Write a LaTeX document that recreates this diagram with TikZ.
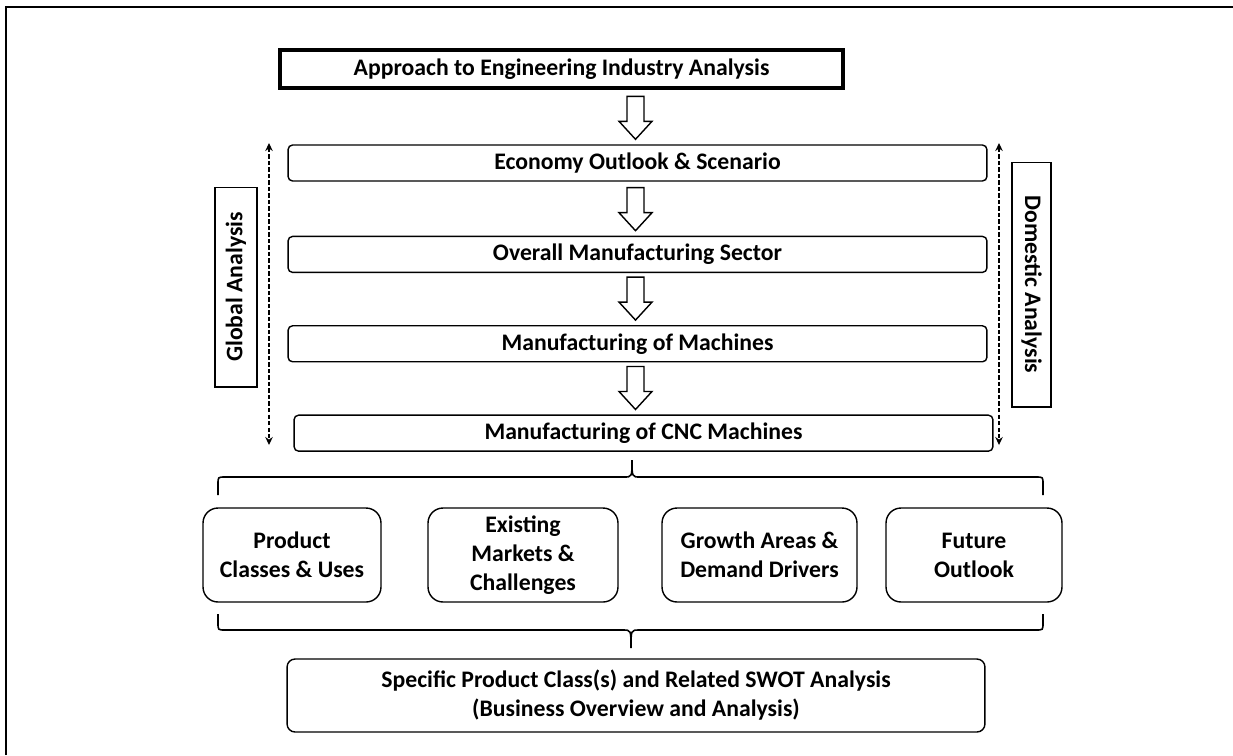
\documentclass[tikz,border=0pt]{standalone}
\usepackage{fontspec}
\setmainfont{Carlito}
\usetikzlibrary{positioning, arrows.meta, calc}

\begin{document}
\begin{tikzpicture}[x=0.02cm, y=-0.02cm,
  font=\bfseries\fontsize{13.5}{16.5}\selectfont,
  headbox/.style={draw, line width=1.8pt, minimum width=11.26cm, minimum height=0.76cm, inner sep=0pt},
  stagebox/.style={draw, line width=0.8pt, rounded corners=0.09cm, minimum width=13.98cm, minimum height=0.72cm, inner sep=0pt},
  sidebox/.style={draw, line width=0.6pt, inner sep=0pt},
  topicbox/.style={draw, line width=0.8pt, rounded corners=0.3cm, minimum height=1.88cm, align=center, inner sep=0pt},
  resultbox/.style={draw, line width=0.8pt, rounded corners=0.16cm, minimum width=13.96cm, minimum height=1.46cm, align=center, inner sep=0pt},
  flowarrow/.style={draw, line width=0.8pt, fill=white, line join=miter},
  rangearrow/.style={line width=0.7pt, dash pattern=on 2.5pt off 1.2pt, {Stealth[length=1.6mm,width=1.5mm]}-{Stealth[length=1.6mm,width=1.5mm]}},
  bracket/.style={line width=0.9pt}]
\useasboundingbox (0,0) rectangle (1233,755);
\draw[line width=1.2pt] (6,755) -- (6,7) -- (1233,7);

% main flow
\node (head) [headbox] at (561.5,69) {Approach to Engineering Industry Analysis};
\node (eco) [stagebox] at (637.5,163) {Economy Outlook \& Scenario};
\node (overall) [stagebox, below=1.08cm of eco] {Overall Manufacturing Sector};
\node (mach) [stagebox, below=1.04cm of overall] {Manufacturing of Machines};
\node (cnc) [stagebox, below=1.04cm of mach, xshift=0.12cm] {Manufacturing of CNC Machines};

\foreach \b in {eco, overall, mach, cnc}
  \draw[flowarrow] ($(\b.north -| eco.north)+(-2,-5)$) -- ++(-16.5,-18) -- ++(8,0) -- ++(0,-25)
    -- ++(17,0) -- ++(0,25) -- ++(8,0) -- cycle;

% side ranges
\node (global) [sidebox, rotate=90, minimum width=4cm, minimum height=0.84cm] at (236,287) {Global Analysis};
\node (domestic) [sidebox, rotate=-90, minimum width=4.9cm, minimum height=0.78cm] at (1031.5,284.5) {Domestic Analysis};
\coordinate (gtop) at (269,143);
\coordinate (gbot) at (269,445);
\coordinate (dtop) at (999,143);
\coordinate (dbot) at (999,445);
\draw[rangearrow] (gtop) -- (gbot);
\draw[rangearrow] (dtop) -- (dbot);

% braces
\draw[bracket] (218,495) -- (218,484) .. controls (218,477) .. (225,477) -- (624,477)
  .. controls (632,477) .. (632,460) .. controls (632,477) .. (640,477) -- (1036,477)
  .. controls (1043,477) .. (1043,484) -- (1043,495);
\draw[bracket] (218,614) -- (218,623) .. controls (218,630) .. (225,630) -- (623,630)
  .. controls (631,630) .. (631,648) .. controls (631,630) .. (639,630) -- (1036,630)
  .. controls (1043,630) .. (1043,623) -- (1043,614);

% topics
\node (classes) [topicbox, minimum width=3.56cm] at (292,555) {Product\\Classes \& Uses};
\node (markets) [topicbox, minimum width=3.8cm] at (523,555) {Existing\\Markets \&\\Challenges};
\node (growth) [topicbox, minimum width=3.9cm] at (759.5,555) {Growth Areas \&\\Demand Drivers};
\node (future) [topicbox, minimum width=3.52cm] at (974,555) {Future\\Outlook};

\node (swot) [resultbox] at (636,695.5) {Specific Product Class(s) and Related SWOT Analysis\\(Business Overview and Analysis)};
\end{tikzpicture}
\end{document}
